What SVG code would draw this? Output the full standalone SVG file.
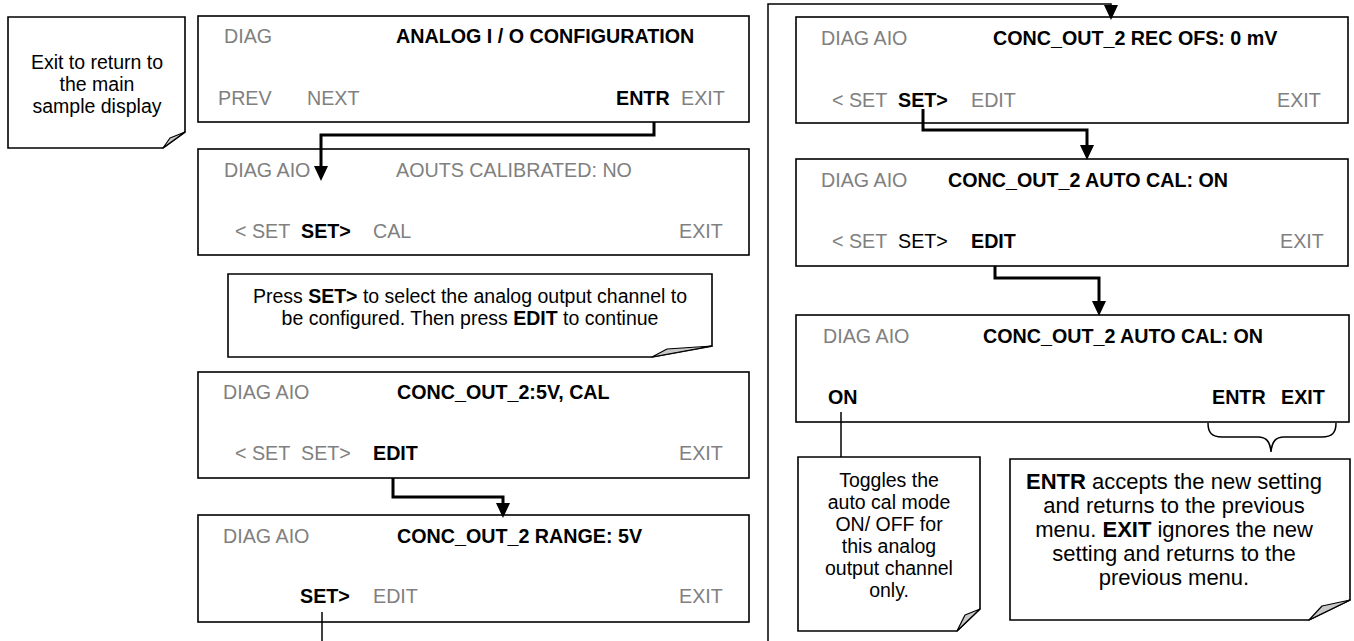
<svg xmlns="http://www.w3.org/2000/svg" width="1354" height="641" viewBox="0 0 1354 641">
<defs>
<style>
.box{fill:#fff;stroke:#000;stroke-width:1.6}
.note{fill:#fff;stroke:#000;stroke-width:1.6}
.fold{fill:#c8c8c8;stroke:#000;stroke-width:1.2;stroke-linejoin:round}
text{font-family:"Liberation Sans",Arial,sans-serif;font-size:19.7px}
.g{fill:#808080}
.k{fill:#000}
.b{font-weight:bold;fill:#000}
.nt{fill:#000;text-anchor:middle}
.thick{fill:none;stroke:#000;stroke-width:3}
.thin{fill:none;stroke:#000;stroke-width:1.5}
</style>
<marker id="ah" markerUnits="userSpaceOnUse" markerWidth="16" markerHeight="15" refX="2" refY="7" orient="auto" viewBox="0 0 16 15">
<path d="M0,0 L15,7 L0,14 Z" fill="#000"/>
</marker>
</defs>
<rect width="1354" height="641" fill="#fff"/>

<g id="note-exit">
<path class="note" d="M8,17 H185 V132 L163,148 H8 Z"/>
<path class="fold" d="M185,132 L170,138 L163,148 Z"/>
<text class="nt" style="font-size:19.5px"><tspan x="97" y="69">Exit to return to</tspan><tspan x="97" y="91">the main</tspan><tspan x="97" y="113">sample display</tspan></text>
</g>

<g id="box-analog-io">
<rect class="box" x="198" y="16" width="551" height="106"/>
<text class="g" x="224" y="43">DIAG</text>
<text class="b" x="396" y="43">ANALOG I / O CONFIGURATION</text>
<text class="g" x="218" y="105">PREV</text>
<text class="g" x="307" y="105">NEXT</text>
<text class="b" x="616" y="105">ENTR</text>
<text class="g" x="681" y="105">EXIT</text>
</g>

<g id="box-aouts">
<rect class="box" x="198" y="149" width="551" height="106"/>
<text class="g" x="224" y="177">DIAG AIO</text>
<text class="g" x="396" y="177">AOUTS CALIBRATED: NO</text>
<text class="g" x="235" y="238">&lt; SET</text>
<text class="b" x="301" y="238">SET&gt;</text>
<text class="g" x="373" y="238">CAL</text>
<text class="g" x="679" y="238">EXIT</text>
</g>

<g id="note-press">
<path class="note" d="M228,274 H712 V346 L652,357 H228 Z"/>
<path class="fold" d="M712,346 L667,349 L652,357 Z"/>
<text class="nt" x="470" y="303" style="font-size:19.5px">Press <tspan font-weight="bold">SET&gt;</tspan> to select the analog output channel to</text>
<text class="nt" x="470" y="325" style="font-size:19.5px">be configured. Then press <tspan font-weight="bold">EDIT</tspan> to continue</text>
</g>

<g id="box-conc-cal">
<rect class="box" x="198" y="372" width="551" height="106"/>
<text class="g" x="223" y="399">DIAG AIO</text>
<text class="b" x="397" y="399">CONC_OUT_2:5V, CAL</text>
<text class="g" x="235" y="460">&lt; SET</text>
<text class="g" x="301" y="460">SET&gt;</text>
<text class="b" x="373" y="460">EDIT</text>
<text class="g" x="679" y="460">EXIT</text>
</g>

<g id="box-range">
<rect class="box" x="198" y="515" width="551" height="107"/>
<text class="g" x="223" y="543">DIAG AIO</text>
<text class="b" x="397" y="543">CONC_OUT_2 RANGE: 5V</text>
<text class="b" x="300" y="603">SET&gt;</text>
<text class="g" x="373" y="603">EDIT</text>
<text class="g" x="679" y="603">EXIT</text>
</g>

<g id="box-rec-ofs">
<rect class="box" x="796" y="17" width="552" height="106"/>
<text class="g" x="821" y="45">DIAG AIO</text>
<text class="b" x="993" y="45">CONC_OUT_2 REC OFS: 0 mV</text>
<text class="g" x="832" y="107">&lt; SET</text>
<text class="b" x="898" y="107">SET&gt;</text>
<text class="g" x="971" y="107">EDIT</text>
<text class="g" x="1277" y="107">EXIT</text>
</g>

<g id="box-auto-cal">
<rect class="box" x="796" y="159" width="552" height="107"/>
<text class="g" x="821" y="187">DIAG AIO</text>
<text class="b" x="948" y="187">CONC_OUT_2 AUTO CAL: ON</text>
<text class="g" x="832" y="248">&lt; SET</text>
<text class="k" x="898" y="248">SET&gt;</text>
<text class="b" x="971" y="248">EDIT</text>
<text class="g" x="1280" y="248">EXIT</text>
</g>

<g id="box-auto-cal-edit">
<rect class="box" x="796" y="315" width="553" height="107"/>
<text class="g" x="823" y="343">DIAG AIO</text>
<text class="b" x="983" y="343">CONC_OUT_2 AUTO CAL: ON</text>
<text class="b" x="828" y="404">ON</text>
<text class="b" x="1212" y="404">ENTR</text>
<text class="b" x="1281" y="404">EXIT</text>
</g>

<g id="note-toggle">
<path class="note" d="M798,457 H980 V609 L957,631 H798 Z"/>
<path class="fold" d="M980,609 L965,615 L957,631 Z"/>
<text class="nt" style="font-size:19.5px"><tspan x="889" y="487">Toggles the</tspan><tspan x="889" y="509">auto cal mode</tspan><tspan x="889" y="531">ON/ OFF for</tspan><tspan x="889" y="553">this analog</tspan><tspan x="889" y="575">output channel</tspan><tspan x="889" y="597">only.</tspan></text>
</g>

<g id="note-entr-exit">
<path class="note" d="M1010,459 H1350 V600 L1309,620 H1010 Z"/>
<path class="fold" d="M1350,600 L1322,606 L1309,620 Z"/>
<text class="nt" x="1174" y="489" style="font-size:22px"><tspan font-weight="bold">ENTR</tspan> accepts the new setting</text>
<text class="nt" x="1174" y="513" style="font-size:22px">and returns to the previous</text>
<text class="nt" x="1174" y="537" style="font-size:22px">menu. <tspan font-weight="bold">EXIT</tspan> ignores the new</text>
<text class="nt" x="1174" y="561" style="font-size:22px">setting and returns to the</text>
<text class="nt" x="1174" y="585" style="font-size:22px">previous menu.</text>
</g>

<g id="connectors">
<polyline class="thick" points="654,122 654,135 321,135 321,168" marker-end="url(#ah)"/>
<polyline class="thick" points="393,478 393,497 503,497 503,505" marker-end="url(#ah)"/>
<line class="thin" x1="322" y1="612" x2="322" y2="641"/>
<polyline class="thin" points="768,641 768,4 1111,4 1111,7" marker-end="url(#ah)"/>
<polyline class="thick" points="923,109 923,130 1087,130 1087,147" marker-end="url(#ah)"/>
<polyline class="thick" points="995,266 995,278 1099,278 1099,303" marker-end="url(#ah)"/>
<line class="thin" x1="841" y1="412" x2="841" y2="457"/>
<path class="thin" d="M1208,423 C1208,433 1212,437 1222,437 H1258 C1266,437 1270,441 1271,452 C1272,441 1276,437 1284,437 H1322 C1332,437 1336,433 1336,423"/>
</g>
</svg>
